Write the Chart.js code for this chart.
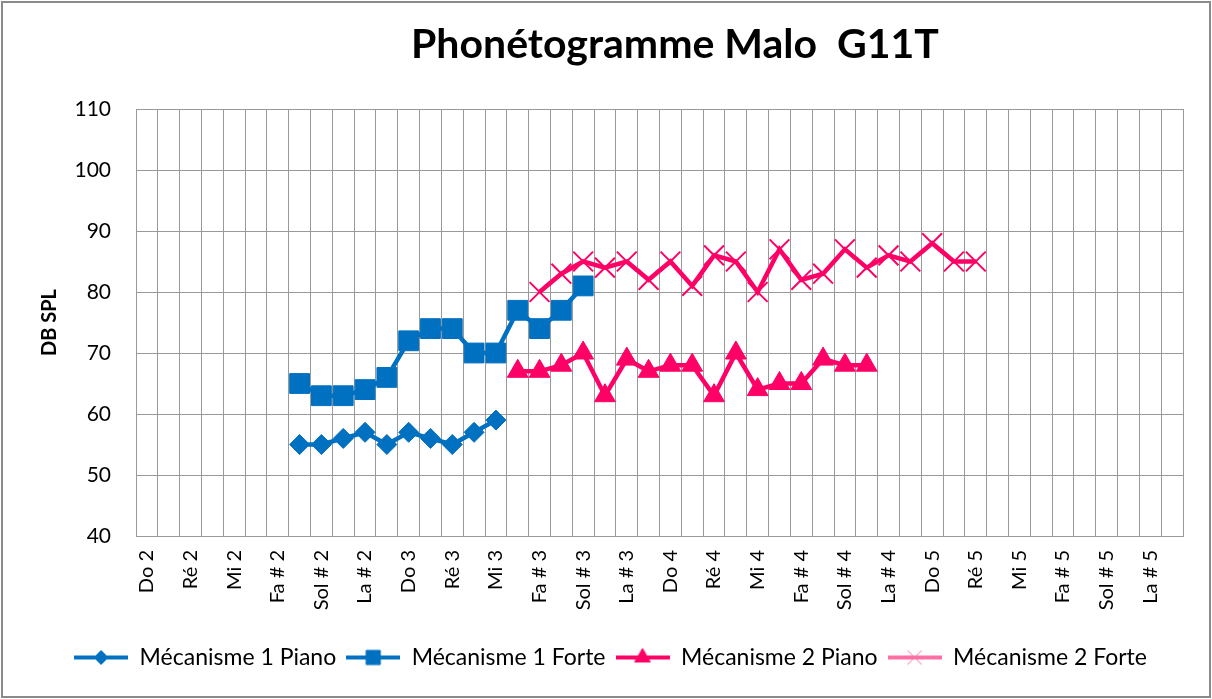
<!DOCTYPE html>
<html>
<head>
<meta charset="utf-8">
<title>Phonétogramme Malo G11T</title>
<script src="https://cdn.jsdelivr.net/npm/chart.js@4/dist/chart.umd.min.js"></script>
<style>
  html, body { margin: 0; padding: 0; background: #fff; }
  #wrap { width: 1212px; height: 699px; }
</style>
</head>
<body>
<div id="wrap"><canvas id="phonChart" width="1212" height="699"></canvas></div>
<script>
// chromatic scale; every other note gets a label on the axis
const notes = [
  'Do 2', 'Do # 2', 'Ré 2', 'Ré # 2', 'Mi 2', 'Fa 2', 'Fa # 2', 'Sol 2', 'Sol # 2', 'La 2', 'La # 2', 'Si 2',
  'Do 3', 'Do # 3', 'Ré 3', 'Ré # 3', 'Mi 3', 'Fa 3', 'Fa # 3', 'Sol 3', 'Sol # 3', 'La 3', 'La # 3', 'Si 3',
  'Do 4', 'Do # 4', 'Ré 4', 'Ré # 4', 'Mi 4', 'Fa 4', 'Fa # 4', 'Sol 4', 'Sol # 4', 'La 4', 'La # 4', 'Si 4',
  'Do 5', 'Do # 5', 'Ré 5', 'Ré # 5', 'Mi 5', 'Fa 5', 'Fa # 5', 'Sol 5', 'Sol # 5', 'La 5', 'La # 5', 'Si 5'
];

// dB SPL per note, starting at the given note
const m1PianoStart = 'Sol 2';
const m1Piano = [55, 55, 56, 57, 55, 57, 56, 55, 57, 59];

const m1ForteStart = 'Sol 2';
const m1Forte = [65, 63, 63, 64, 66, 72, 74, 74, 70, 70, 77, 74, 77, 81];

const m2PianoStart = 'Fa 3';
const m2Piano = [67, 67, 68, 70, 63, 69, 67, 68, 68, 63, 70, 64, 65, 65, 69, 68, 68];

const m2ForteStart = 'Fa # 3';
const m2Forte = [80, 83, 85, 84, 85, 82, 85, 81, 86, 85, 80, 87, 82, 83, 87, 84, 86, 85, 88, 85, 85];

const yTicks = [40, 50, 60, 70, 80, 90, 100, 110];

const BLUE = '#0070C0';
const PINK = '#FF0066';
const FONT = 'Lato, "Open Sans", sans-serif';

function placeSeries(start, values) {
  const out = new Array(notes.length).fill(null);
  const first = notes.indexOf(start);
  values.forEach((v, i) => { out[first + i] = v; });
  return out;
}

// line + marker picture used as legend symbol
function iconFor(color, style, radius, markerWidth) {
  const c = document.createElement('canvas');
  c.width = 54;
  c.height = 22;
  const ctx = c.getContext('2d');
  ctx.strokeStyle = color;
  ctx.lineWidth = 4;
  ctx.beginPath();
  ctx.moveTo(0, 11);
  ctx.lineTo(54, 11);
  ctx.stroke();
  ctx.fillStyle = color;
  ctx.strokeStyle = color;
  ctx.lineWidth = markerWidth;
  Chart.helpers.drawPoint(ctx, { pointStyle: style, radius: radius, borderWidth: markerWidth }, 27, 11);
  return c;
}

const legendIcons = [
  iconFor(BLUE, 'rectRot', 7, 1),
  iconFor(BLUE, 'rect', 10, 1),
  iconFor(PINK, 'triangle', 9, 1),
  iconFor('#FF6FA3', 'crossRot', 10, 1)
];

const frameAndTitle = {
  id: 'frameAndTitle',
  beforeDraw(chart) {
    const ctx = chart.ctx;
    ctx.save();
    ctx.fillStyle = '#fff';
    ctx.fillRect(0, 0, chart.width, chart.height);
    ctx.restore();
  },
  afterDraw(chart) {
    const ctx = chart.ctx;
    ctx.save();
    ctx.strokeStyle = '#8a8a8a';
    ctx.lineWidth = 2;
    ctx.strokeRect(2, 2, chart.width - 4, chart.height - 4);
    ctx.fillStyle = '#000';
    ctx.font = 'bold 41px ' + FONT;
    ctx.textAlign = 'center';
    ctx.textBaseline = 'middle';
    ctx.fillText('Phonétogramme Malo  G11T', 675, 45);
    ctx.restore();
  }
};

new Chart(document.getElementById('phonChart'), {
  type: 'line',
  data: {
    labels: notes,
    datasets: [
      {
        label: 'Mécanisme 1 Piano',
        data: placeSeries(m1PianoStart, m1Piano),
        borderColor: BLUE,
        backgroundColor: BLUE,
        borderWidth: 4.5,
        pointStyle: 'rectRot',
        pointRadius: 10,
        pointBorderWidth: 1,
        order: 4
      },
      {
        label: 'Mécanisme 1 Forte',
        data: placeSeries(m1ForteStart, m1Forte),
        borderColor: BLUE,
        backgroundColor: BLUE,
        borderWidth: 4.5,
        pointStyle: 'rect',
        pointRadius: 14,
        pointBorderWidth: 1,
        order: 3
      },
      {
        label: 'Mécanisme 2 Piano',
        data: placeSeries(m2PianoStart, m2Piano),
        borderColor: PINK,
        backgroundColor: PINK,
        borderWidth: 4.5,
        pointStyle: 'triangle',
        pointRadius: 12,
        pointBorderWidth: 1,
        order: 2
      },
      {
        label: 'Mécanisme 2 Forte',
        data: placeSeries(m2ForteStart, m2Forte),
        borderColor: PINK,
        backgroundColor: PINK,
        borderWidth: 4.5,
        pointStyle: 'crossRot',
        pointRadius: 14,
        pointBorderWidth: 2,
        order: 1
      }
    ]
  },
  options: {
    responsive: false,
    animation: false,
    layout: { padding: { left: 38, right: 29, top: 109, bottom: 20 } },
    plugins: {
      title: { display: false },
      tooltip: { enabled: false },
      legend: {
        position: 'bottom',
        labels: {
          usePointStyle: true,
          pointStyleWidth: 54,
          padding: 10,
          color: '#000',
          font: { family: FONT, size: 23 },
          generateLabels(chart) {
            const items = Chart.defaults.plugins.legend.labels.generateLabels(chart);
            items.sort((a, b) => a.datasetIndex - b.datasetIndex);
            items.forEach(it => { it.pointStyle = legendIcons[it.datasetIndex]; });
            return items;
          }
        }
      }
    },
    scales: {
      x: {
        offset: true,
        grid: { offset: true, color: '#999', lineWidth: 1, drawTicks: false },
        border: { color: '#999', width: 1 },
        afterFit(scale) { scale.height = 100; },
        ticks: {
          autoSkip: false,
          maxRotation: 90,
          minRotation: 90,
          padding: 14,
          color: '#000',
          font: { family: FONT, size: 20 },
          callback: (value, index) => (index % 2 === 0 ? notes[index] : '')
        }
      },
      y: {
        min: yTicks[0],
        max: yTicks[yTicks.length - 1],
        afterFit(scale) { scale.width = 98; },
        afterBuildTicks(scale) { scale.ticks = yTicks.map(v => ({ value: v })); },
        grid: { color: '#999', lineWidth: 1, drawTicks: false },
        border: { color: '#999', width: 1 },
        ticks: {
          padding: 25,
          color: '#000',
          font: { family: FONT, size: 21 }
        },
        title: {
          display: true,
          text: 'DB SPL',
          color: '#000',
          padding: { top: 0, bottom: 4 },
          font: { family: FONT, size: 20, weight: 'bold' }
        }
      }
    }
  },
  plugins: [frameAndTitle]
});
</script>
</body>
</html>
